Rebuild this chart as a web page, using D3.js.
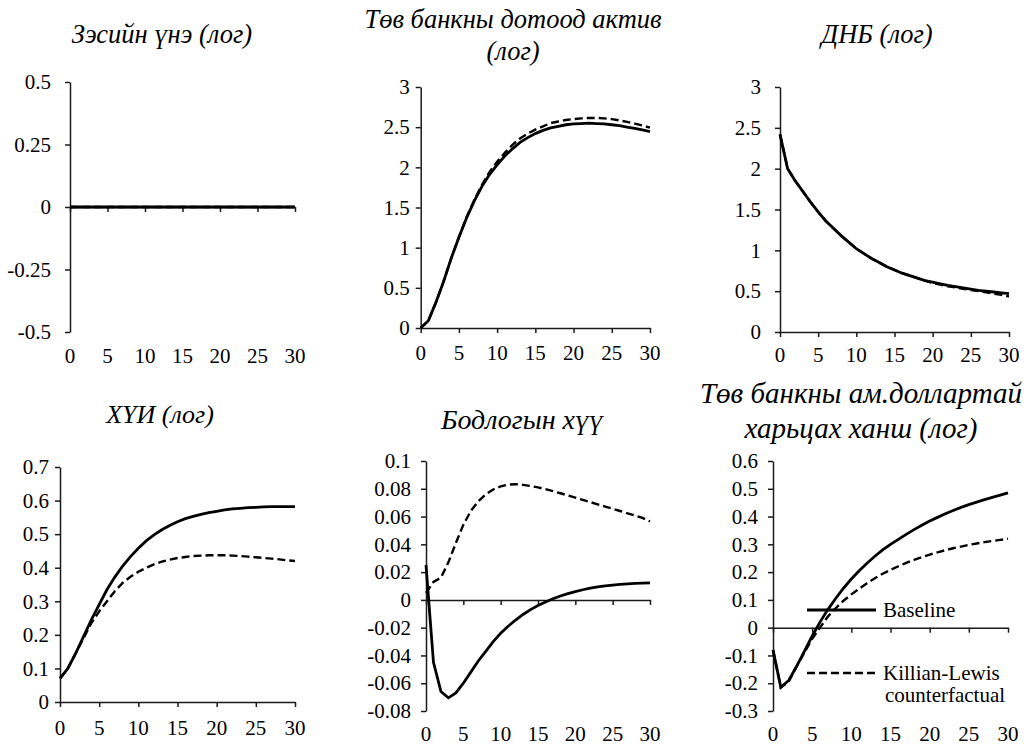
<!DOCTYPE html>
<html><head><meta charset="utf-8">
<script src="https://cdn.jsdelivr.net/npm/d3@7"></script>
<style>body{margin:0;background:#fff}svg{display:block}svg text{font-family:"Liberation Serif","Times New Roman",serif}</style>
</head><body>
<svg id="c" width="1027" height="746"></svg>
<script>
// ---------- DATA ----------
const periods = d3.range(0, 31);
const xTicks = [0, 5, 10, 15, 20, 25, 30];

const copperBaseline = [0,0,0,0,0,0,0,0,0,0,0,0,0,0,0,0,0,0,0,0,0,0,0,0,0,0,0,0,0,0,0];
const copperCounter  = [0,0,0,0,0,0,0,0,0,0,0,0,0,0,0,0,0,0,0,0,0,0,0,0,0,0,0,0,0,0,0];

const assetsBaseline = [0,0.09,0.32,0.58,0.87,1.13,1.37,1.58,1.76,1.91,2.03,2.14,2.23,2.31,2.37,2.42,2.46,2.49,2.51,2.53,2.54,2.545,2.55,2.545,2.54,2.53,2.52,2.50,2.485,2.465,2.445];
const assetsCounter  = [0,0.09,0.32,0.58,0.87,1.13,1.38,1.59,1.78,1.94,2.07,2.18,2.28,2.36,2.42,2.47,2.51,2.55,2.57,2.59,2.60,2.61,2.615,2.615,2.61,2.60,2.585,2.565,2.545,2.52,2.495];

const gdpBaseline = [2.42,2.0,1.85,1.72,1.59,1.47,1.36,1.27,1.18,1.10,1.02,0.96,0.90,0.85,0.80,0.76,0.72,0.69,0.66,0.63,0.61,0.59,0.57,0.555,0.54,0.525,0.51,0.50,0.49,0.48,0.47];
const gdpCounter  = [2.42,2.0,1.85,1.72,1.59,1.47,1.36,1.27,1.18,1.10,1.02,0.96,0.90,0.85,0.80,0.76,0.72,0.69,0.66,0.63,0.60,0.58,0.56,0.545,0.53,0.515,0.50,0.485,0.47,0.455,0.435];

const cpiBaseline = [0.07,0.10,0.145,0.195,0.245,0.29,0.335,0.372,0.405,0.433,0.458,0.48,0.498,0.513,0.526,0.537,0.546,0.553,0.559,0.564,0.568,0.572,0.575,0.577,0.579,0.580,0.581,0.582,0.582,0.582,0.582];
const cpiCounter  = [0.07,0.10,0.145,0.19,0.235,0.27,0.30,0.33,0.355,0.373,0.388,0.40,0.41,0.418,0.424,0.429,0.432,0.435,0.436,0.437,0.437,0.437,0.436,0.435,0.433,0.431,0.429,0.427,0.425,0.422,0.42];

const rateBaseline = [0.025,-0.045,-0.066,-0.0705,-0.067,-0.060,-0.052,-0.044,-0.037,-0.030,-0.024,-0.019,-0.0145,-0.0105,-0.007,-0.004,-0.0015,0.0008,0.0028,0.0045,0.006,0.0073,0.0084,0.0093,0.0101,0.0107,0.0112,0.0116,0.0119,0.0121,0.0122];
const rateCounter  = [0.005,0.013,0.016,0.027,0.041,0.054,0.064,0.071,0.076,0.0795,0.0818,0.083,0.0833,0.0828,0.082,0.081,0.0797,0.0783,0.0768,0.0752,0.0736,0.072,0.0704,0.0688,0.0672,0.0656,0.064,0.0623,0.0607,0.059,0.0565];

const fxBaseline = [-0.08,-0.215,-0.19,-0.14,-0.085,-0.03,0.02,0.065,0.105,0.142,0.175,0.205,0.232,0.257,0.28,0.30,0.318,0.336,0.353,0.369,0.384,0.397,0.41,0.422,0.433,0.443,0.452,0.461,0.469,0.477,0.485];
const fxCounter  = [-0.08,-0.215,-0.195,-0.14,-0.09,-0.04,0.0,0.04,0.07,0.097,0.12,0.14,0.16,0.178,0.194,0.208,0.221,0.233,0.244,0.254,0.263,0.271,0.279,0.286,0.292,0.298,0.303,0.308,0.312,0.316,0.32];

const ticks1 = [0.5, 0.25, 0, -0.25, -0.5];
const tickLabels1 = ["0.5","0.25","0","-0.25","-0.5"];
const ticks2 = [3, 2.5, 2, 1.5, 1, 0.5, 0];
const tickLabels2 = ["3","2.5","2","1.5","1","0.5","0"];
const ticks3 = [3, 2.5, 2, 1.5, 1, 0.5, 0];
const tickLabels3 = ["3","2.5","2","1.5","1","0.5","0"];
const ticks4 = [0.7,0.6,0.5,0.4,0.3,0.2,0.1,0];
const tickLabels4 = ["0.7","0.6","0.5","0.4","0.3","0.2","0.1","0"];
const ticks5 = [0.1,0.08,0.06,0.04,0.02,0,-0.02,-0.04,-0.06,-0.08];
const tickLabels5 = ["0.1","0.08","0.06","0.04","0.02","0","-0.02","-0.04","-0.06","-0.08"];
const ticks6 = [0.6,0.5,0.4,0.3,0.2,0.1,0,-0.1,-0.2,-0.3];
const tickLabels6 = ["0.6","0.5","0.4","0.3","0.2","0.1","0","-0.1","-0.2","-0.3"];

const titles = [
  ["Зэсийн үнэ (лог)"],
  ["Төв банкны дотоод актив", "(лог)"],
  ["ДНБ (лог)"],
  ["ХҮИ (лог)"],
  ["Бодлогын хүү"],
  ["Төв банкны ам.доллартай", "харьцах ханш (лог)"]
];
const legendLabels = ["Baseline", "Killian-Lewis", "counterfactual"];

// ---------- LAYOUT ----------
const panels = [
  {b: copperBaseline, c: copperCounter, ticks: ticks1, labels: tickLabels1, x0:70, x1:295, yTop:82, yBot:332, pad:14, labY:363, title: titles[0], tx:162, ty:[43], tfs:26.5},
  {b: assetsBaseline, c: assetsCounter, ticks: ticks2, labels: tickLabels2, x0:420.7, x1:650, yTop:87, yBot:328, pad:6, labY:360, title: titles[1], tx:513, ty:[28, 60], tfs:26.5},
  {b: gdpBaseline, c: gdpCounter, ticks: ticks3, labels: tickLabels3, x0:780, x1:1009, yTop:87, yBot:332, pad:14, labY:362, title: titles[2], tx:877, ty:[43], tfs:26.5},
  {b: cpiBaseline, c: cpiCounter, ticks: ticks4, labels: tickLabels4, x0:60, x1:295, yTop:467, yBot:702, pad:6, labY:735, title: titles[3], tx:160, ty:[423], tfs:26},
  {b: rateBaseline, c: rateCounter, ticks: ticks5, labels: tickLabels5, x0:426, x1:650, yTop:461, yBot:711, pad:10, labY:741, title: titles[4], tx:522, ty:[429], tfs:28},
  {b: fxBaseline, c: fxCounter, ticks: ticks6, labels: tickLabels6, x0:773, x1:1008, yTop:461, yBot:711, pad:10, labY:741, title: titles[5], tx:861, ty:[403, 438], tfs:29}
];

const svg = d3.select("#c");
const FONT = "Liberation Serif, Times New Roman, serif";

panels.forEach(p => {
  const g = svg.append("g");
  const x = d3.scaleLinear().domain([0, 30]).range([p.x0, p.x1]);
  const y = d3.scaleLinear().domain([p.ticks[p.ticks.length-1], p.ticks[0]]).range([p.yBot, p.yTop]);

  // y axis
  const ya = g.append("g").attr("transform", `translate(${p.x0},0)`)
    .call(d3.axisLeft(y).tickValues(p.ticks).tickSize(5).tickSizeOuter(0).tickPadding(p.pad)
      .tickFormat((d,i) => p.labels[i]));
  ya.attr("font-family", FONT);
  ya.selectAll("path,line").attr("stroke", "#1a1a1a").attr("stroke-width", 1.5);
  ya.selectAll("text").attr("font-family", FONT).attr("font-size", 21).attr("fill", "#000");

  // x axis at zero
  const xa = g.append("g").attr("transform", `translate(0,${y(0)})`)
    .call(d3.axisBottom(x).tickValues(xTicks).tickSize(5).tickSizeOuter(0).tickFormat(""));
  xa.selectAll("path,line").attr("stroke", "#1a1a1a").attr("stroke-width", 1.5);

  // x labels at bottom
  g.selectAll("text.xl").data(xTicks).join("text").attr("class","xl")
    .attr("x", d => x(d)).attr("y", p.labY).attr("text-anchor","middle")
    .attr("font-family", FONT).attr("font-size", 21).text(d => d);

  const line = d3.line().x((d,i) => x(periods[i])).y(d => y(d));
  g.append("path").datum(p.c).attr("d", line).attr("fill","none")
    .attr("stroke","#000").attr("stroke-width",2.4).attr("stroke-dasharray","8,4");
  g.append("path").datum(p.b).attr("d", line).attr("fill","none")
    .attr("stroke","#000").attr("stroke-width",2.8);

  p.title.forEach((t,i) => {
    g.append("text").attr("x", p.tx).attr("y", p.ty[i]).attr("text-anchor","middle")
      .attr("font-family", FONT).attr("font-style","italic").attr("font-size", p.tfs).text(t);
  });
});

// legend (in last panel)
const lg = svg.append("g");
lg.append("line").attr("x1",807).attr("x2",876).attr("y1",610).attr("y2",610)
  .attr("stroke","#000").attr("stroke-width",2.8);
lg.append("line").attr("x1",807).attr("x2",876).attr("y1",673).attr("y2",673)
  .attr("stroke","#000").attr("stroke-width",2.4).attr("stroke-dasharray","8,4");
lg.append("text").attr("x",883).attr("y",617).attr("font-family",FONT).attr("font-size",21).text(legendLabels[0]);
lg.append("text").attr("x",883).attr("y",680).attr("font-family",FONT).attr("font-size",21).text(legendLabels[1]);
lg.append("text").attr("x",885).attr("y",702).attr("font-family",FONT).attr("font-size",21).text(legendLabels[2]);
</script>
</body></html>
